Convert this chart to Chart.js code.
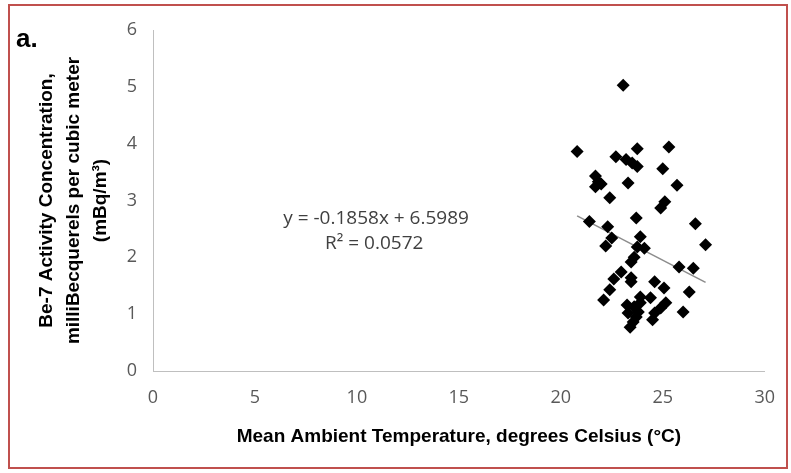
<!DOCTYPE html>
<html>
<head>
<meta charset="utf-8">
<script src="https://cdn.jsdelivr.net/npm/chart.js@4.4.1/dist/chart.umd.min.js"></script>
<style>
  html, body { margin: 0; padding: 0; background: #fff; }
  #wrap { width: 791px; height: 473px; position: relative; }
</style>
</head>
<body>
<div id="wrap"><canvas id="chart"></canvas></div>
<script>
// Mean ambient temperature (°C) for each sample
const temps = [
    23.06, 20.8, 22.7, 23.75, 25.3, 23.2, 23.5, 23.75, 25.0, 21.7,
    21.84, 21.98, 21.7, 23.3, 25.7, 22.4, 25.1, 24.9, 21.4, 23.7,
    26.6, 22.3, 22.5, 22.2, 23.9, 23.75, 24.1, 27.1, 23.6, 23.45,
    25.8, 26.5, 22.96, 22.6, 23.45, 23.45, 24.6, 25.06, 22.4, 26.3,
    23.9, 24.4, 22.1, 23.25, 23.6, 23.9, 25.15, 24.9, 26.0, 23.3,
    23.8, 24.6, 24.5, 23.55, 23.4, 23.7
];
// Be-7 activity concentration (mBq/m3), same order as temps
const be7 = [
    5.03, 3.86, 3.77, 3.91, 3.94, 3.72, 3.66, 3.6, 3.56, 3.43,
    3.33, 3.29, 3.24, 3.31, 3.27, 3.05, 2.98, 2.87, 2.63, 2.69,
    2.59, 2.54, 2.34, 2.2, 2.36, 2.18, 2.16, 2.22, 2.0, 1.92,
    1.83, 1.81, 1.74, 1.62, 1.64, 1.57, 1.57, 1.46, 1.43, 1.39,
    1.3, 1.29, 1.25, 1.16, 1.13, 1.2, 1.2, 1.11, 1.04, 1.02,
    1.04, 1.02, 0.9, 0.86, 0.77, 0.95
];
// Linear trendline end points as drawn
const trendX = [20.8, 27.1];
const trendY = [2.73, 1.56];

const xTicks = [0, 5, 10, 15, 20, 25, 30];
const yTicks = [0, 1, 2, 3, 4, 5, 6];
const equationLines = ['y = -0.1858x + 6.5989', 'R² = 0.0572'];

const points = temps.map((t, i) => ({ x: t, y: be7[i] }));
const trend = trendX.map((t, i) => ({ x: t, y: trendY[i] }));

// frame, panel letter and trendline equation
const decorPlugin = {
    id: 'decor',
    afterDraw(chart) {
        const ctx = chart.ctx;
        const xs = chart.scales.x, ys = chart.scales.y;
        ctx.save();
        ctx.strokeStyle = '#c0504d';
        ctx.lineWidth = 2;
        ctx.strokeRect(9, 5, 778, 463);

        ctx.fillStyle = '#000';
        ctx.font = 'bold 26px "Liberation Sans", Arial, sans-serif';
        ctx.textBaseline = 'alphabetic';
        ctx.fillText('a.', 16, 47);

        ctx.fillStyle = '#404040';
        ctx.font = '19px "Open Sans", sans-serif';
        ctx.textAlign = 'center';
        ctx.textBaseline = 'middle';
        ctx.fillText(equationLines[0], xs.getPixelForValue(10.94), ys.getPixelForValue(2.69));
        ctx.fillText(equationLines[1], xs.getPixelForValue(10.85), ys.getPixelForValue(2.24));
        ctx.restore();
    }
};

const tickFont = { family: '"Open Sans", sans-serif', size: 18 };
const titleFont = { family: '"Liberation Sans", Arial, sans-serif', size: 19, weight: 'bold' };

new Chart(document.getElementById('chart'), {
    type: 'scatter',
    data: {
        datasets: [
            {
                label: 'Be-7',
                data: points,
                pointStyle: 'rectRot',
                pointRadius: 6.5,
                backgroundColor: '#000',
                borderColor: '#000',
                borderWidth: 0
            },
            {
                label: 'Linear',
                type: 'line',
                data: trend,
                borderColor: '#8c8c8c',
                borderWidth: 1.5,
                pointRadius: 0,
                fill: false
            }
        ]
    },
    plugins: [decorPlugin],
    options: {
        responsive: true,
        maintainAspectRatio: false,
        animation: false,
        layout: { padding: { left: 0, top: 30, right: 22, bottom: 0 } },
        plugins: {
            legend: { display: false },
            tooltip: { enabled: false }
        },
        scales: {
            x: {
                type: 'linear',
                min: 0,
                max: 30,
                afterBuildTicks(scale) { scale.ticks = xTicks.map(v => ({ value: v })); },
                afterFit(scale) { scale.height = 102; },
                grid: { display: false, drawTicks: false },
                border: { display: true, color: '#bfbfbf', width: 1 },
                ticks: { color: '#595959', font: tickFont, padding: 16, maxRotation: 0 },
                title: {
                    display: true,
                    text: 'Mean Ambient Temperature, degrees Celsius (°C)',
                    color: '#000',
                    font: titleFont,
                    padding: { top: 0, bottom: 25 }
                }
            },
            y: {
                type: 'linear',
                min: 0,
                max: 6,
                afterBuildTicks(scale) { scale.ticks = yTicks.map(v => ({ value: v })); },
                afterFit(scale) { scale.width = 153; },
                grid: { display: false, drawTicks: false },
                border: { display: true, color: '#bfbfbf', width: 1 },
                ticks: { color: '#595959', font: tickFont, padding: 16 },
                title: {
                    display: true,
                    text: ['Be-7 Activity Concentration,', 'milliBecquerels per cubic meter', '(mBq/m³)'],
                    color: '#000',
                    font: { ...titleFont, lineHeight: 1.42 },
                    padding: { top: 33.5, bottom: 0 }
                }
            }
        }
    }
});
</script>
</body>
</html>
